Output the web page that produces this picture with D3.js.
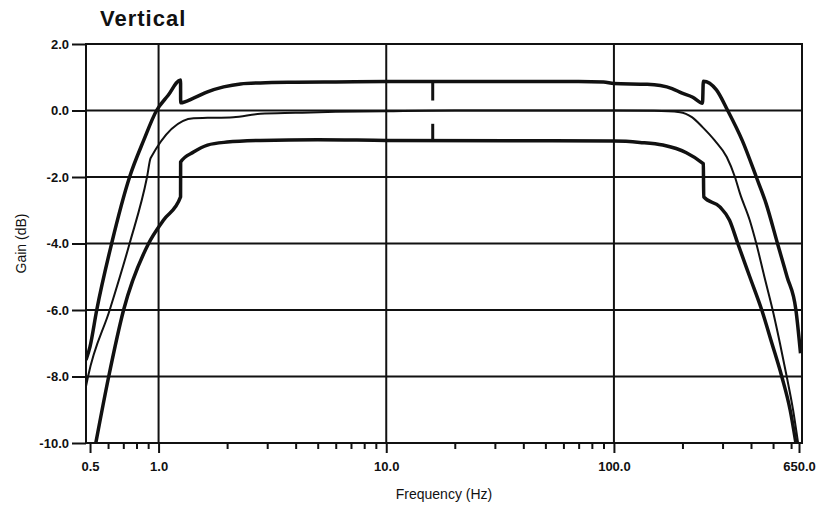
<!DOCTYPE html>
<html>
<head>
<meta charset="utf-8">
<script src="https://cdn.jsdelivr.net/npm/d3@7"></script>
<style>
  body { margin: 0; background: #fff; }
  svg text { font-family: "Liberation Sans", Arial, sans-serif; fill: #111; }
</style>
</head>
<body>
<div id="chartArea"></div>
<script>
var width = 816,
    height = 511;

// upper tolerance limit
var upperFreq = [0.48, 0.5, 0.535, 0.622, 0.746, 0.86, 0.98, 1.1, 1.249, 1.25, 1.424, 1.64, 1.93, 2.29, 2.8, 4, 6, 10, 30, 70, 90, 100, 140, 160, 180, 198, 222, 245, 247, 282, 316, 366, 422, 466, 523, 576, 630, 660];
var upperGain = [-7.5, -7.1, -6.0, -4.0, -2.0, -0.9, 0.0, 0.45, 0.92, 0.23, 0.37, 0.56, 0.71, 0.80, 0.83, 0.85, 0.86, 0.87, 0.87, 0.87, 0.86, 0.81, 0.79, 0.75, 0.66, 0.53, 0.40, 0.22, 0.88, 0.62, 0.0, -0.9, -2.0, -2.8, -4.0, -5.0, -6.0, -7.3];

// nominal response
var nominalFreq = [0.48, 0.49, 0.61, 0.746, 0.89, 0.923, 1.424, 1.64, 2.13, 2.8, 4, 6, 10, 20, 100, 150, 195, 207, 220, 245, 277, 313, 340, 358, 395, 422, 458, 498, 536, 574, 612, 644];
var nominalGain = [-8.3, -8.0, -6.0, -4.0, -2.0, -1.43, -0.23, -0.22, -0.2, -0.1, -0.07, -0.04, -0.02, 0, 0, -0.01, -0.05, -0.1, -0.2, -0.5, -0.9, -1.4, -2.0, -2.5, -3.3, -4.0, -5.0, -6.0, -7.0, -8.0, -9.0, -10.0];

// lower tolerance limit
var lowerFreq = [0.53, 0.604, 0.702, 0.904, 1.05, 1.249, 1.25, 1.424, 1.64, 2.0, 2.8, 5, 10, 100, 130, 164, 208, 245, 247, 248, 292, 322, 350, 395, 446, 494, 546, 594, 630];
var lowerGain = [-10, -8, -6, -4, -3.3, -2.6, -1.55, -1.25, -1.04, -0.95, -0.9, -0.88, -0.9, -0.92, -0.96, -1.04, -1.27, -1.58, -1.6, -2.6, -2.9, -3.3, -4.0, -5.0, -6.0, -7.0, -8.0, -9.0, -10.0];

// dashed check marker at 16 Hz
var markerFreq = 16;
var markerTop = [0.85, -0.4];
var markerBottom = [0.3, -0.9];

var yTicks = [2, 0, -2, -4, -6, -8, -10];
var yTickLabels = ["2.0", "0.0", "-2.0", "-4.0", "-6.0", "-8.0", "-10.0"];
var xMajorTicks = [0.5, 1, 10, 100, 650];
var xTickLabels = ["0.5", "1.0", "10.0", "100.0", "650.0"];
var xMinorTicks = [0.6, 0.7, 0.8, 0.9, 2, 3, 4, 5, 6, 7, 8, 9, 20, 30, 40, 50, 60, 70, 80, 90, 200, 300, 400, 500, 600];
var xGrid = [1, 10, 100];

var plotL = 86, plotR = 802, plotT = 44, plotB = 443;
var fontStack = "\"Liberation Sans\", Arial, sans-serif";

var x = d3.scaleLog().domain([0.48, 670]).range([plotL, plotR]);
var y = d3.scaleLinear().domain([-10, 2]).range([plotB, plotT]);

var svg = d3.select("#chartArea").append("svg")
    .attr("width", width)
    .attr("height", height);

svg.append("defs").append("clipPath")
    .attr("id", "plotClip")
  .append("rect")
    .attr("x", plotL)
    .attr("y", plotT)
    .attr("width", plotR - plotL)
    .attr("height", plotB - plotT);

// grid
svg.append("g").selectAll("line")
    .data(yTicks)
  .enter().append("line")
    .attr("x1", plotL).attr("x2", plotR)
    .attr("y1", function(d) { return y(d); })
    .attr("y2", function(d) { return y(d); })
    .style("stroke", "#111").style("stroke-width", 2);

svg.append("g").selectAll("line")
    .data(xGrid)
  .enter().append("line")
    .attr("x1", function(d) { return x(d); })
    .attr("x2", function(d) { return x(d); })
    .attr("y1", plotT).attr("y2", plotB)
    .style("stroke", "#111").style("stroke-width", 2);

// frame
svg.append("rect")
    .attr("x", plotL).attr("y", plotT)
    .attr("width", plotR - plotL).attr("height", plotB - plotT)
    .style("fill", "none").style("stroke", "#111").style("stroke-width", 2);

// y ticks + labels
var yAxis = d3.axisLeft(y)
    .tickValues(yTicks)
    .tickSize(14)
    .tickPadding(3)
    .tickFormat(function(d, i) { return yTickLabels[i]; });
var gy = svg.append("g")
    .attr("transform", "translate(" + plotL + ",0)")
    .call(yAxis);
gy.select(".domain").remove();
gy.selectAll("line").style("stroke", "#111").style("stroke-width", 2);
gy.selectAll("text").style("font-size", "13px").style("font-weight", "bold")
    .style("fill", "#111").style("font-family", fontStack);

// x ticks + labels
var xAxis = d3.axisBottom(x)
    .tickValues(xMajorTicks)
    .tickSize(10)
    .tickPadding(9)
    .tickFormat(function(d, i) { return xTickLabels[i]; });
var gx = svg.append("g")
    .attr("transform", "translate(0," + plotB + ")")
    .call(xAxis);
gx.select(".domain").remove();
gx.selectAll("line").style("stroke", "#111").style("stroke-width", 2);
gx.selectAll("text").style("font-size", "13px").style("font-weight", "bold")
    .style("fill", "#111").style("font-family", fontStack);

var xMinor = d3.axisBottom(x)
    .tickValues(xMinorTicks)
    .tickSize(6)
    .tickFormat("");
var gxm = svg.append("g")
    .attr("transform", "translate(0," + plotB + ")")
    .call(xMinor);
gxm.select(".domain").remove();
gxm.selectAll("line").style("stroke", "#111").style("stroke-width", 2);

// curves
var line = d3.line()
    .curve(d3.curveMonotoneX)
    .x(function(d) { return x(d[0]); })
    .y(function(d) { return y(d[1]); });

function zip(a, b) { return a.map(function(v, i) { return [v, b[i]]; }); }

var curves = svg.append("g").attr("clip-path", "url(#plotClip)");

curves.append("path")
    .attr("d", line(zip(upperFreq, upperGain)))
    .style("fill", "none").style("stroke", "#111").style("stroke-width", 3.5)
    .style("stroke-linejoin", "round");

curves.append("path")
    .attr("d", line(zip(nominalFreq, nominalGain)))
    .style("fill", "none").style("stroke", "#111").style("stroke-width", 2)
    .style("stroke-linejoin", "round");

curves.append("path")
    .attr("d", line(zip(lowerFreq, lowerGain)))
    .style("fill", "none").style("stroke", "#111").style("stroke-width", 3.5)
    .style("stroke-linejoin", "round");

curves.selectAll(".marker")
    .data(markerTop)
  .enter().append("line")
    .attr("class", "marker")
    .attr("x1", x(markerFreq)).attr("x2", x(markerFreq))
    .attr("y1", function(d) { return y(d); })
    .attr("y2", function(d, i) { return y(markerBottom[i]); })
    .style("stroke", "#111").style("stroke-width", 3);

// titles
svg.append("text")
    .attr("x", 100).attr("y", 26)
    .style("font-size", "22px").style("font-weight", "bold")
    .style("letter-spacing", "1px")
    .text("Vertical");

svg.append("text")
    .attr("x", (plotL + plotR) / 2).attr("y", 499)
    .attr("text-anchor", "middle")
    .style("font-size", "14px")
    .text("Frequency (Hz)");

svg.append("text")
    .attr("transform", "translate(26," + ((plotT + plotB) / 2) + ") rotate(-90)")
    .attr("text-anchor", "middle")
    .style("font-size", "14px")
    .text("Gain (dB)");
</script>
</body>
</html>
